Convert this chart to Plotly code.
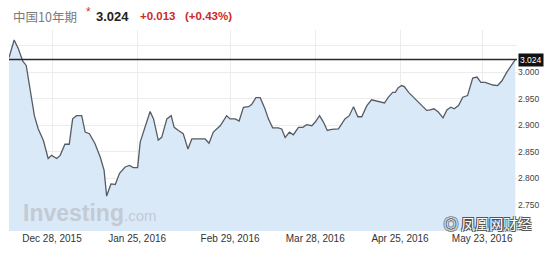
import plotly.graph_objects as go

# trading-day index and China 10Y yield
day = [0, 1.2, 2.2, 3.2, 4.0, 4.9, 5.9, 6.8, 8.0, 9.1, 9.9, 11.1, 11.9, 13.0, 14.0, 14.8,
       15.7, 16.9, 17.7, 18.7, 20.0, 21.2, 22.1, 22.7, 23.7, 24.7, 25.7, 27.0, 28.0, 28.9,
       29.9, 30.5, 31.6, 32.8, 33.6, 34.7, 35.5, 36.7, 37.7, 38.4, 39.4, 40.5, 41.6, 42.5,
       44.0, 45.6, 46.5, 47.5, 49.1, 50.6, 51.4, 52.6, 53.5, 54.5, 55.7, 56.4, 57.4, 58.4,
       59.5, 60.3, 61.3, 62.6, 63.4, 64.2, 65.2, 66.1, 67.3, 68.3, 69.2, 70.4, 71.2, 72.2,
       73.1, 74.0, 75.0, 76.6, 78.1, 79.1, 80.1, 81.1, 82.0, 83.2, 84.3, 85.9, 87.3, 88.2,
       89.2, 89.8, 90.5, 91.3, 91.9, 92.9, 94.0, 95.2, 96.2, 97.1, 97.9, 98.8, 99.8, 100.9,
       101.8, 102.7, 103.5, 104.5, 105.5, 106.6, 107.4, 107.8, 108.8, 109.7, 110.7, 111.5,
       112.5, 113.6, 114.6, 115.7, 116.7, 117.7]
yld = [3.028, 3.061, 3.044, 3.021, 3.013, 2.965, 2.918, 2.893, 2.871, 2.837, 2.843, 2.837,
       2.843, 2.864, 2.864, 2.912, 2.918, 2.918, 2.887, 2.884, 2.865, 2.840, 2.815, 2.766,
       2.789, 2.788, 2.809, 2.821, 2.824, 2.820, 2.820, 2.868, 2.896, 2.926, 2.912, 2.872,
       2.877, 2.912, 2.918, 2.896, 2.890, 2.884, 2.855, 2.874, 2.874, 2.874, 2.866, 2.887,
       2.899, 2.918, 2.912, 2.912, 2.908, 2.934, 2.935, 2.939, 2.952, 2.952, 2.931, 2.912,
       2.895, 2.895, 2.893, 2.877, 2.887, 2.882, 2.896, 2.896, 2.901, 2.899, 2.906, 2.918,
       2.906, 2.890, 2.892, 2.893, 2.912, 2.918, 2.935, 2.916, 2.916, 2.937, 2.948, 2.945,
       2.942, 2.953, 2.962, 2.962, 2.971, 2.975, 2.973, 2.962, 2.953, 2.945, 2.935, 2.928,
       2.929, 2.931, 2.925, 2.914, 2.929, 2.934, 2.931, 2.937, 2.953, 2.956, 2.978, 2.989,
       2.991, 2.981, 2.981, 2.979, 2.976, 2.975, 2.984, 3.000, 3.013, 3.024]

x_tick_pos = [10.0, 29.8, 51.4, 71.2, 90.9, 110.0]
x_tick_text = ["Dec 28, 2015", "Jan 25, 2016", "Feb 29, 2016", "Mar 28, 2016",
               "Apr 25, 2016", "May 23, 2016"]
# the 2.700 label is hidden under the watermark in the reference
y_tick_vals = [2.70, 2.75, 2.80, 2.85, 2.90, 2.95, 3.00, 3.05]
y_tick_text = ["", "2.750", "2.800", "2.850", "2.900", "2.950", "3.000", ""]

last_value = 3.024
title_name = "中国10年期"
change_abs = "+0.013"
change_pct = "(+0.43%)"

fig = go.Figure()
fig.add_trace(go.Scatter(
    x=day, y=yld, mode="lines", fill="tozeroy",
    fillcolor="#dae9f8", line=dict(color="#575c63", width=1.3),
    hoverinfo="skip", showlegend=False))

fig.add_shape(type="line", xref="paper", x0=0, x1=1, yref="y",
              y0=last_value, y1=last_value, line=dict(color="#2a2a2a", width=1.5))

L, R, T, B = 9, 38, 30, 29
W, H = 555, 260
pw = W - L - R
ph = H - T - B

def px(x):
    return (x - L) / pw

def py(y):
    return (H - B - y) / ph

fig.update_layout(
    width=W, height=H,
    margin=dict(l=L, r=R, t=T, b=B, pad=0),
    paper_bgcolor="white", plot_bgcolor="white",
    font=dict(family="Liberation Sans, Arial, sans-serif", color="#333"),
    xaxis=dict(range=[0, 118.1], tickvals=x_tick_pos, ticktext=x_tick_text,
               showgrid=True, gridcolor="#ececec", gridwidth=1, zeroline=False,
               showline=False, ticks="", tickfont=dict(size=10, color="#333")),
    yaxis=dict(range=[2.70, 3.08], side="right", tickvals=y_tick_vals,
               ticktext=y_tick_text, showgrid=True, gridcolor="#ececec",
               zeroline=False, showline=False, ticks="",
               tickfont=dict(size=8.5, color="#444")),
)

ann = []
# header
ann.append(dict(x=px(11), y=py(16), xref="paper", yref="paper", xanchor="left",
                yanchor="middle", showarrow=False, text=title_name,
                font=dict(family="Noto Sans CJK SC", size=12.5, color="#7a7a7a")))
ann.append(dict(x=px(84), y=py(12), xref="paper", yref="paper", xanchor="left",
                yanchor="middle", showarrow=False, text="*",
                font=dict(size=12, color="#e03030")))
ann.append(dict(x=px(94), y=py(16), xref="paper", yref="paper", xanchor="left",
                yanchor="middle", showarrow=False, text="<b>%.3f</b>" % last_value,
                font=dict(size=13, color="#222")))
ann.append(dict(x=px(138), y=py(16.5), xref="paper", yref="paper", xanchor="left",
                yanchor="middle", showarrow=False, text="<b>" + change_abs + "</b>",
                font=dict(size=11.5, color="#d02828")))
ann.append(dict(x=px(183), y=py(16.5), xref="paper", yref="paper", xanchor="left",
                yanchor="middle", showarrow=False, text="<b>" + change_pct + "</b>",
                font=dict(size=11.5, color="#d02828")))
# last value label
ann.append(dict(x=1, y=last_value, xref="paper", yref="y", xanchor="left",
                yanchor="middle", showarrow=False, text="%.3f" % last_value,
                bgcolor="#111", borderpad=1, xshift=1,
                font=dict(size=8.5, color="white")))
# Investing.com watermark
ann.append(dict(x=px(21), y=py(213), xref="paper", yref="paper", xanchor="left",
                yanchor="middle", showarrow=False,
                text="<b>Investing</b><span style='font-size:15px'>.com</span>",
                font=dict(size=23, color="#c3cad3")))
# 凤凰网财经 watermark
ann.append(dict(x=px(442), y=py(223), xref="paper", yref="paper", xanchor="left",
                yanchor="middle", showarrow=False, text="◎ 凤凰网财经",
                font=dict(family="Noto Sans CJK SC", size=14, color="white",
                          shadow="1px 1px 0 #555, -1px -1px 0 #555, 1px -1px 0 #555, -1px 1px 0 #555")))
fig.update_layout(annotations=ann)

fig.write_html("out.html")
